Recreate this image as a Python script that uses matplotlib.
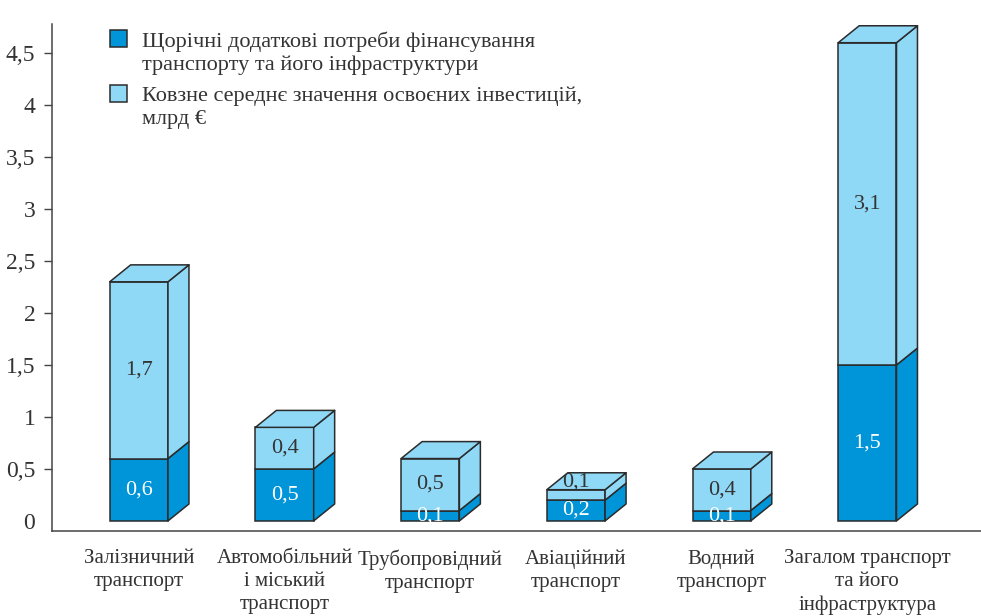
import matplotlib
matplotlib.use("Agg")
import matplotlib.pyplot as plt
from matplotlib.patches import Polygon, Rectangle
from matplotlib.ticker import FuncFormatter

categories = [
    "Залізничний\nтранспорт",
    "Автомобільний\nі міський\nтранспорт",
    "Трубопровідний\nтранспорт",
    "Авіаційний\nтранспорт",
    "Водний\nтранспорт",
    "Загалом транспорт\nта його\nінфраструктура",
]
need = [0.6, 0.5, 0.1, 0.2, 0.1, 1.5]      # щорічні додаткові потреби
invest = [1.7, 0.4, 0.5, 0.1, 0.4, 3.1]    # ковзне середнє освоєних інвестицій
legend_labels = [
    "Щорічні додаткові потреби фінансування\nтранспорту та його інфраструктури",
    "Ковзне середнє значення освоєних інвестицій,\nмлрд €",
]
yticks = [0, 0.5, 1, 1.5, 2, 2.5, 3, 3.5, 4, 4.5]

DARK = "#0095d8"
LIGHT = "#8fd8f6"
EDGE = "#2b2b2b"
TXT = "#333333"
FONT = "Liberation Serif"

W, H = 981, 616
fig = plt.figure(figsize=(W / 100, H / 100), dpi=100)
ax = fig.add_axes([52 / W, 1 - 531 / H, 1 - 52 / W, (531 - 24) / H])
ax.set_xlim(-0.596, 5.78)
ax.set_ylim(-0.097, 4.78)

width = 0.40
dx, dy = 0.144, 0.163


def fmt(v):
    return f"{v:g}".replace(".", ",")


def side_face(x, y0, y1, color):
    xr = x + width / 2
    pts = [(xr, y0), (xr + dx, y0 + dy), (xr + dx, y1 + dy), (xr, y1)]
    ax.add_patch(Polygon(pts, closed=True, facecolor=color, edgecolor=EDGE,
                         linewidth=1.1, joinstyle="round", zorder=3))


def top_face(x, y, color):
    xl, xr = x - width / 2, x + width / 2
    pts = [(xl, y), (xr, y), (xr + dx, y + dy), (xl + dx, y + dy)]
    ax.add_patch(Polygon(pts, closed=True, facecolor=color, edgecolor=EDGE,
                         linewidth=1.1, joinstyle="round", zorder=3))


xs = list(range(len(categories)))
ax.bar(xs, need, width=width, color=DARK, edgecolor=EDGE, linewidth=1.1, zorder=3)
ax.bar(xs, invest, width=width, bottom=need, color=LIGHT, edgecolor=EDGE,
       linewidth=1.1, zorder=3)

for x, n, v in zip(xs, need, invest):
    side_face(x, 0, n, DARK)
    side_face(x, n, n + v, LIGHT)
    top_face(x, n + v, LIGHT)
    ax.text(x, n / 2, fmt(n), ha="center", va="center", color="white",
            fontsize=16, family=FONT, zorder=4)
    # a very thin segment gets its label lifted onto the top face
    ty = n + v / 2 if v >= 0.2 else n + v + 0.07
    ax.text(x, ty, fmt(v), ha="center", va="center", color=TXT,
            fontsize=16, family=FONT, zorder=4)

# axes styling
for s in ("top", "right"):
    ax.spines[s].set_visible(False)
for s in ("left", "bottom"):
    ax.spines[s].set_color("#444444")
    ax.spines[s].set_linewidth(1.1)

ax.set_yticks(yticks)
ax.yaxis.set_major_formatter(FuncFormatter(lambda v, p: fmt(v)))
ax.tick_params(axis="y", length=6, width=1, color="#444444", labelsize=17,
               labelcolor=TXT, pad=6)
ax.yaxis.get_major_ticks()[0].tick1line.set_visible(False)
for lbl in ax.get_yticklabels():
    lbl.set_family(FONT)

ax.set_xticks(xs)
ax.set_xticklabels(categories, fontsize=15, family=FONT, color=TXT,
                   linespacing=1.3)
ax.tick_params(axis="x", length=0, pad=13)

# legend, drawn by hand
for i, (lab, col) in enumerate(zip(legend_labels, [DARK, LIGHT])):
    top = 30 + i * 55
    fig.patches.append(Rectangle((110 / W, 1 - (top + 17) / H), 17 / W, 17 / H,
                                 transform=fig.transFigure, facecolor=col,
                                 edgecolor=EDGE, linewidth=1.1))
    fig.text(142 / W, 1 - (top + 1) / H, lab, ha="left", va="top",
             fontsize=16, family=FONT, color=TXT, linespacing=1.3)

fig.savefig("out.png", dpi=100)
